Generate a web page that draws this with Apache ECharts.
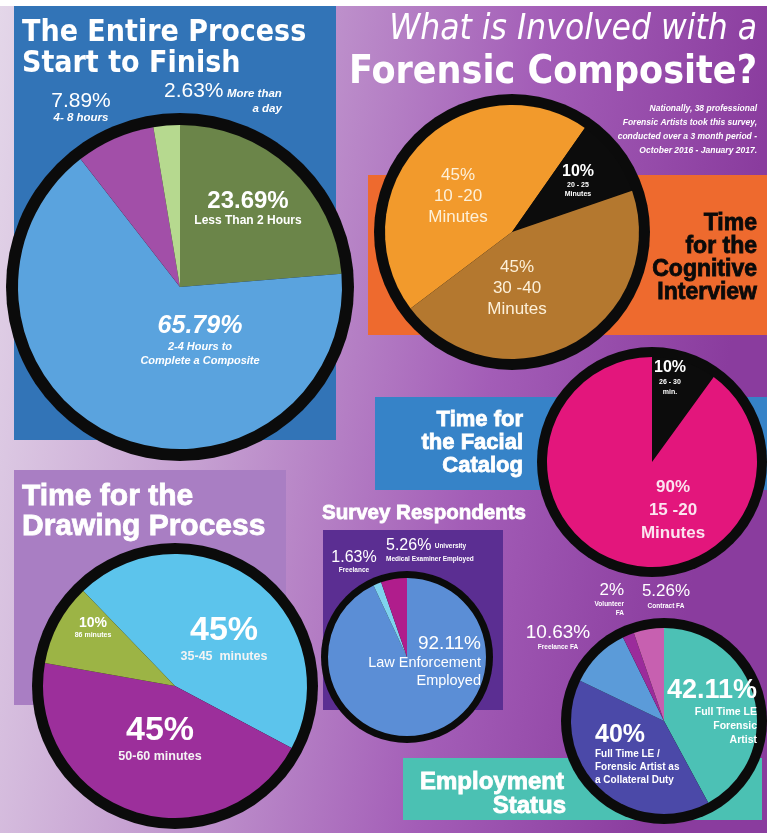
<!DOCTYPE html>
<html><head><meta charset="utf-8">
<script src="https://cdn.jsdelivr.net/npm/echarts@6/dist/echarts.min.js"></script>
<style>html,body{margin:0;padding:0;background:#fff}#c{width:767px;height:833px}</style>
</head><body><div id="c"></div>
<script>
// ---------------- DATA ----------------
const processCats = ['Less Than 2 Hours', '2-4 Hours to\nComplete a Composite', '4- 8 hours', 'More than\na day'];
const processVals = [23.69, 65.79, 7.89, 2.63];

const cognitiveCats = ['10 -20\nMinutes', '20 - 25\nMinutes', '30 -40\nMinutes'];
const cognitiveVals = [45, 10, 45];

const catalogCats = ['26 - 30\nmin.', '15 -20\nMinutes'];
const catalogVals = [10, 90];

const drawingCats = ['35-45  minutes', '50-60 minutes', '86 minutes'];
const drawingVals = [45, 45, 10];

const respondentCats = ['Law Enforcement\nEmployed', 'Freelance', 'University\nMedical Examiner Employed'];
const respondentVals = [92.11, 1.63, 5.26];

const employmentCats = ['Full Time LE\nForensic\nArtist', 'Full Time LE /\nForensic Artist as\na Collateral Duty', 'Freelance FA', 'Volunteer\nFA', 'Contract FA'];
const employmentVals = [42.11, 40, 10.63, 2, 5.26];

// ---------------- STYLE ----------------
const SANS = "'Liberation Sans', Arial, sans-serif";
const NARROW = "'Liberation Sans Narrow', 'DejaVu Sans Condensed', sans-serif";

function lines(txt, key) { return txt.split('\n').map(l => '{' + key + '|' + l + '}').join('\n'); }

function ringSeries(center, rOut) {
  return { type: 'pie', center: center, radius: [0, rOut], silent: true, z: 1,
    label: { show: false }, labelLine: { show: false },
    itemStyle: { color: '#0b0b0b' }, data: [{ value: 1, name: '' }], animation: false };
}

function pieSeries(cfg) {
  return {
    type: 'pie', center: cfg.center, radius: [0, cfg.r], startAngle: cfg.start, clockwise: true,
    z: 2, animation: false, avoidLabelOverlap: false, silent: true,
    labelLine: { show: false },
    data: cfg.vals.map((v, i) => ({
      value: v, name: cfg.cats[i],
      itemStyle: { color: cfg.colors[i] },
      label: {
        show: true, position: 'inside', color: cfg.textColor || '#fff', fontFamily: SANS,
        formatter: p => cfg.fmt[i](p.value + '%', p.name),
        rich: cfg.rich[i]
      }
    })),
    labelLayout: p => {
      const q = cfg.pos[p.dataIndex];
      return { x: q[0], y: q[1], align: q[2], verticalAlign: 'top' };
    }
  };
}

const stdFmt = (bk, sk) => (pct, name) => '{' + bk + '|' + pct + '}\n' + lines(name, sk);

// Pie 1: entire process
const p1 = pieSeries({
  center: [180, 287], r: 162, start: 90, cats: processCats, vals: processVals,
  colors: ['#6b8549', '#5aa3de', '#a24fa8', '#b6d98f'],
  fmt: [stdFmt('b', 's'), stdFmt('b', 's'), stdFmt('b', 's'),
        (pct, name) => '{b|' + pct + '} {s|' + name.split('\n')[0] + '}\n{r|' + name.split('\n')[1] + '}'],
  rich: [
    { b: { fontSize: 24, fontWeight: 'bold', color: '#fff', fontFamily: SANS, lineHeight: 26 },
      s: { fontSize: 12, fontWeight: 'bold', color: '#fff', fontFamily: SANS, lineHeight: 14 } },
    { b: { fontSize: 25, fontWeight: 'bold', fontStyle: 'italic', color: '#fff', fontFamily: SANS, lineHeight: 28 },
      s: { fontSize: 11, fontWeight: 'bold', fontStyle: 'italic', color: '#fff', fontFamily: SANS, lineHeight: 14 } },
    { b: { fontSize: 21, color: '#fff', fontFamily: SANS, lineHeight: 21 },
      s: { fontSize: 11.5, fontWeight: 'bold', fontStyle: 'italic', color: '#fff', fontFamily: SANS, lineHeight: 12 } },
    { b: { fontSize: 21, color: '#fff', fontFamily: SANS, lineHeight: 16, verticalAlign: 'bottom' },
      s: { fontSize: 11.5, fontWeight: 'bold', fontStyle: 'italic', color: '#fff', fontFamily: SANS, lineHeight: 14 },
      r: { fontSize: 11.5, fontWeight: 'bold', fontStyle: 'italic', color: '#fff', fontFamily: SANS, lineHeight: 14, align: 'right' } }
  ],
  pos: [[248, 188, 'center'], [200, 312, 'center'], [81, 91, 'center'], [164, 86, 'left']]
});

// Pie 2: cognitive interview
const cogRich = { b: { fontSize: 17, color: '#fdf0d9', fontFamily: SANS, lineHeight: 21 },
                  s: { fontSize: 17, color: '#fdf0d9', fontFamily: SANS, lineHeight: 21 } };
const p2 = pieSeries({
  center: [512, 232], r: 127, start: -143, cats: cognitiveCats, vals: cognitiveVals,
  colors: ['#f29a2c', '#0c0c0c', '#b4782f'],
  fmt: [stdFmt('b', 's'), stdFmt('b', 's'), stdFmt('b', 's')],
  rich: [cogRich,
    { b: { fontSize: 16, fontWeight: 'bold', color: '#fff', fontFamily: SANS, lineHeight: 18 },
      s: { fontSize: 7, fontWeight: 'bold', color: '#fff', fontFamily: SANS, lineHeight: 9 } },
    cogRich],
  pos: [[458, 165, 'center'], [578, 163, 'center'], [517, 257, 'center']]
});

// Pie 3: facial catalog
const p3 = pieSeries({
  center: [652, 462], r: 105, start: 90, cats: catalogCats, vals: catalogVals,
  colors: ['#0c0c0c', '#e3167c'],
  fmt: [stdFmt('b', 's'), (pct, name) => '{b|' + pct + '}\n' + lines(name, 'b')],
  rich: [
    { b: { fontSize: 16, fontWeight: 'bold', color: '#fff', fontFamily: SANS, lineHeight: 18 },
      s: { fontSize: 7, fontWeight: 'bold', color: '#fff', fontFamily: SANS, lineHeight: 10 } },
    { b: { fontSize: 17, fontWeight: 'bold', color: '#fbe4ef', fontFamily: SANS, lineHeight: 23 } }],
  pos: [[670, 359, 'center'], [673, 476, 'center']]
});

// Pie 4: drawing process
const drRich = { b: { fontSize: 34, fontWeight: 'bold', color: '#fff', fontFamily: SANS, lineHeight: 38 },
                 s: { fontSize: 12.5, fontWeight: 'bold', color: '#f4f4f4', fontFamily: SANS, lineHeight: 14 } };
const p4 = pieSeries({
  center: [175, 686], r: 132, start: 134, cats: drawingCats, vals: drawingVals,
  colors: ['#5cc4ec', '#9c2f9b', '#9cb445'],
  fmt: [stdFmt('b', 's'), stdFmt('b', 's'), stdFmt('b', 's')],
  rich: [drRich, drRich,
    { b: { fontSize: 14, fontWeight: 'bold', color: '#fff', fontFamily: SANS, lineHeight: 15 },
      s: { fontSize: 7, fontWeight: 'bold', color: '#fff', fontFamily: SANS, lineHeight: 9 } }],
  pos: [[224, 612, 'center'], [160, 712, 'center'], [93, 616, 'center']]
});

// Pie 5: survey respondents
const p5 = pieSeries({
  center: [407, 657], r: 79, start: 90, cats: respondentCats, vals: respondentVals,
  colors: ['#5b8ed6', '#7fd3ee', '#b01d8c'],
  fmt: [stdFmt('b', 's'), stdFmt('b', 't'),
        (pct, name) => '{b|' + pct + '} {t|' + name.split('\n')[0] + '}\n{t|' + name.split('\n')[1] + '}'],
  rich: [
    { b: { fontSize: 19, color: '#fff', fontFamily: SANS, lineHeight: 21 },
      s: { fontSize: 14.5, color: '#fff', fontFamily: SANS, lineHeight: 18 } },
    { b: { fontSize: 16, color: '#fff', fontFamily: SANS, lineHeight: 17 },
      t: { fontSize: 6.5, fontWeight: 'bold', color: '#fff', fontFamily: SANS, lineHeight: 8 } },
    { b: { fontSize: 16, color: '#fff', fontFamily: SANS, lineHeight: 16, verticalAlign: 'bottom' },
      t: { fontSize: 6.5, fontWeight: 'bold', color: '#fff', fontFamily: SANS, lineHeight: 10 } }],
  pos: [[481, 633, 'right'], [354, 549, 'center'], [386, 538, 'left']]
});

// Pie 6: employment status
const p6 = pieSeries({
  center: [664, 721], r: 93, start: 90, cats: employmentCats, vals: employmentVals,
  colors: ['#4cc1b5', '#4b49a8', '#5b9bd9', '#9b2b9b', '#c760b0'],
  fmt: [stdFmt('b', 's'), stdFmt('b', 's'), stdFmt('b', 't'), stdFmt('b', 't'), stdFmt('b', 't')],
  rich: [
    { b: { fontSize: 27, fontWeight: 'bold', color: '#fff', fontFamily: SANS, lineHeight: 29 },
      s: { fontSize: 10.5, fontWeight: 'bold', color: '#fff', fontFamily: SANS, lineHeight: 14 } },
    { b: { fontSize: 25, fontWeight: 'bold', color: '#fff', fontFamily: SANS, lineHeight: 26 },
      s: { fontSize: 10, fontWeight: 'bold', color: '#fff', fontFamily: SANS, lineHeight: 13 } },
    { b: { fontSize: 19, color: '#fff', fontFamily: SANS, lineHeight: 20 },
      t: { fontSize: 6.5, fontWeight: 'bold', color: '#fff', fontFamily: SANS, lineHeight: 9 } },
    { b: { fontSize: 17, color: '#fff', fontFamily: SANS, lineHeight: 20 },
      t: { fontSize: 6.5, fontWeight: 'bold', color: '#fff', fontFamily: SANS, lineHeight: 9 } },
    { b: { fontSize: 17, color: '#fff', fontFamily: SANS, lineHeight: 22 },
      t: { fontSize: 6.5, fontWeight: 'bold', color: '#fff', fontFamily: SANS, lineHeight: 9 } }],
  pos: [[757, 676, 'right'], [595, 722, 'left'], [558, 623, 'center'], [624, 580, 'right'], [666, 580, 'center']]
});

// ---------------- DECOR ----------------
function rect(x, y, w, h, color) { return { type: 'rect', shape: { x: x, y: y, width: w, height: h }, style: { fill: color }, z: -10, silent: true }; }
function txt(x, y, text, font, fill, align, extra) {
  return Object.assign({ type: 'text', x: x, y: y, z: 100, silent: true,
    style: Object.assign({ text: text, font: font, fill: fill, textAlign: align || 'left', textVerticalAlign: 'top' }, extra || {}) });
}
const heavy = (fill) => ({ stroke: fill, lineWidth: 0.8 });

const chart = echarts.init(document.getElementById('c'), null, { renderer: 'canvas' });
chart.setOption({
  backgroundColor: { type: 'linear', x: 0, y: 0, x2: 1, y2: 0.15,
    colorStops: [{ offset: 0, color: '#e4d7e9' }, { offset: 0.35, color: '#c59fd1' }, { offset: 0.7, color: '#a35db7' }, { offset: 1, color: '#8a3c9e' }] },
  graphic: [
    rect(0, 0, 767, 6, '#ffffff'),
    rect(14, 6, 322, 434, '#3274b7'),
    rect(368, 175, 399, 160, '#ee6a2e'),
    rect(375, 397, 392, 93, '#3683c8'),
    rect(14, 470, 272, 235, '#a97ec3'),
    rect(323, 530, 180, 180, '#5b2e92'),
    rect(403, 758, 359, 62, '#4bc1b3'),
    txt(22, 18, 'The Entire Process', 'bold 30px ' + NARROW, '#fff', 'left'),
    txt(22, 49, 'Start to Finish', 'bold 30px ' + NARROW, '#fff', 'left'),
    txt(757, 12, 'What is Involved with a', 'italic 35px ' + NARROW, '#fff', 'right'),
    txt(757, 53, 'Forensic Composite?', 'bold 39px ' + NARROW, '#fff', 'right'),
    txt(757, 104, 'Nationally, 38 professional', 'italic bold 8.5px ' + SANS, '#fff', 'right'),
    txt(757, 118, 'Forensic Artists took this survey,', 'italic bold 8.5px ' + SANS, '#fff', 'right'),
    txt(757, 132, 'conducted over a 3 month period -', 'italic bold 8.5px ' + SANS, '#fff', 'right'),
    txt(757, 146, 'October 2016 - January 2017.', 'italic bold 8.5px ' + SANS, '#fff', 'right'),
    txt(757, 212, 'Time', 'bold 23px ' + SANS, '#0a0a0a', 'right', heavy('#0a0a0a')),
    txt(757, 235, 'for the', 'bold 23px ' + SANS, '#0a0a0a', 'right', heavy('#0a0a0a')),
    txt(757, 258, 'Cognitive', 'bold 23px ' + SANS, '#0a0a0a', 'right', heavy('#0a0a0a')),
    txt(757, 281, 'Interview', 'bold 23px ' + SANS, '#0a0a0a', 'right', heavy('#0a0a0a')),
    txt(523, 409, 'Time for', 'bold 22px ' + SANS, '#fff', 'right', heavy('#fff')),
    txt(523, 432, 'the Facial', 'bold 22px ' + SANS, '#fff', 'right', heavy('#fff')),
    txt(523, 455, 'Catalog', 'bold 22px ' + SANS, '#fff', 'right', heavy('#fff')),
    txt(22, 482, 'Time for the', 'bold 30px ' + SANS, '#fff', 'left', heavy('#fff')),
    txt(22, 512, 'Drawing Process', 'bold 30px ' + SANS, '#fff', 'left', heavy('#fff')),
    txt(322, 503, 'Survey Respondents', 'bold 20.5px ' + SANS, '#fff', 'left', heavy('#fff')),
    txt(420, 770, 'Employment', 'bold 24px ' + SANS, '#fff', 'left', heavy('#fff')),
    txt(566, 794, 'Status', 'bold 24px ' + SANS, '#fff', 'right', heavy('#fff'))
  ],
  series: [
    ringSeries([180, 287], 174), p1,
    ringSeries([512, 232], 138), p2,
    ringSeries([652, 462], 115), p3,
    ringSeries([175, 686], 143), p4,
    ringSeries([407, 657], 86), p5,
    ringSeries([664, 721], 103), p6
  ]
});
</script>
</body></html>
